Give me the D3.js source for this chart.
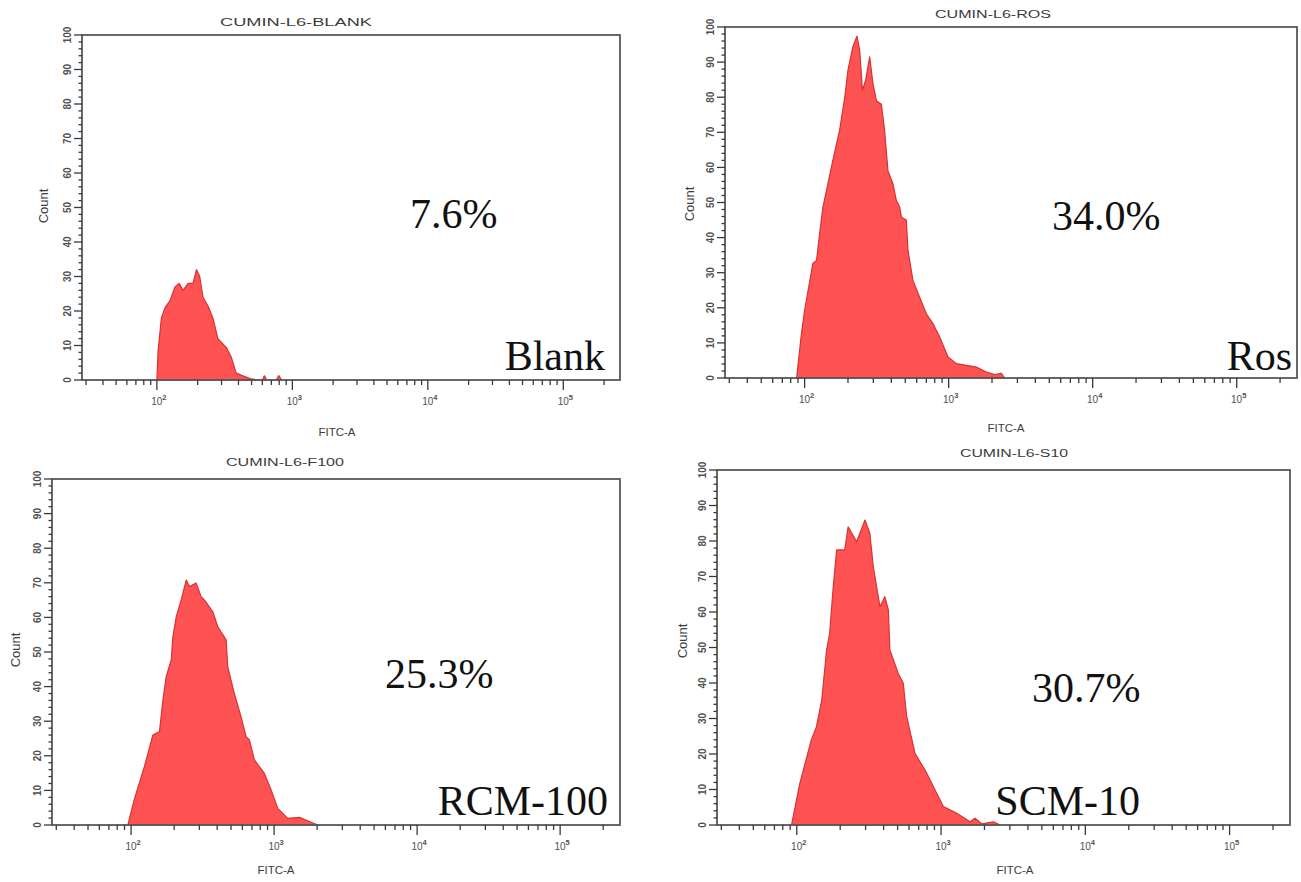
<!DOCTYPE html>
<html>
<head>
<meta charset="utf-8">
<script src="https://cdn.jsdelivr.net/npm/d3@7"></script>
<style>
html,body{margin:0;padding:0;background:#fff;}
svg{display:block;}
</style>
</head>
<body>
<svg id="chart" width="1301" height="882"></svg>
<script>
// ---------- DATA ----------
const yTickValues = [0, 10, 20, 30, 40, 50, 60, 70, 80, 90, 100];
const xTickExponents = [2, 3, 4, 5];
const panelTitles = ["CUMIN-L6-BLANK", "CUMIN-L6-ROS", "CUMIN-L6-F100", "CUMIN-L6-S10"];
const groupLabels = ["Blank", "Ros", "RCM-100", "SCM-10"];
const percentLabels = ["7.6%", "34.0%", "25.3%", "30.7%"];

// FITC-A values and counts for each histogram
const blankFITC  = [100, 102, 108, 115, 125, 136, 146, 156, 170, 185, 196, 207, 219, 238, 259, 282, 326, 355, 385, 432, 497, 562, 600, 622, 646, 760, 794, 832];
const blankCount = [0, 8.4, 18, 21, 23, 27, 28, 26, 28, 28, 32, 30, 24, 21.5, 18, 12, 9.4, 6.5, 2, 1.2, 0.3, 0, 0, 1.2, 0, 0, 1.3, 0];

const rosFITC  = [88, 95, 100, 108, 114, 121, 127, 134, 142, 157, 175, 190, 200, 216, 231, 241, 252, 265, 283, 298, 315, 341, 359, 379, 410, 433, 457, 470, 508, 522, 565, 629, 700, 778, 866, 989, 1132, 1328, 1556, 1827, 2084, 2322, 2449];
const rosCount = [0, 12.6, 19.3, 27, 32.6, 33.5, 41, 48.7, 53.5, 62, 70.6, 80, 87.7, 94.3, 97.4, 93.4, 82, 84.8, 91.5, 83.9, 79, 78, 70.6, 59, 55.4, 50.6, 48.7, 45.8, 45, 36.4, 27.8, 23, 18.3, 15.5, 11.7, 6, 4.1, 3.6, 3.1, 1.7, 1, 1.3, 0];

const rcmFITC  = [95, 105, 124, 142, 158, 167, 176, 191, 196, 207, 224, 243, 256, 285, 309, 326, 373, 404, 462, 474, 527, 587, 637, 672, 728, 855, 953, 1061, 1247, 1504, 1766, 2023];
const rcmCount = [0, 7.2, 16.9, 26, 27, 36, 42.9, 47.7, 54.4, 60.2, 65, 70.8, 68.9, 69.9, 66, 65, 61.6, 57.3, 53.5, 45.8, 38, 31.3, 25.5, 24.6, 18.8, 14.9, 10.1, 4.8, 1.9, 2.2, 1, 0];

const scmFITC  = [92, 105, 126, 137, 149, 161, 169, 179, 189, 215, 227, 260, 297, 321, 339, 377, 408, 431, 442, 505, 547, 578, 660, 796, 934, 1038, 1285, 1589, 1722, 1917, 2306, 2570];
const scmCount = [0, 11.7, 23.9, 27.7, 35.2, 49.3, 54, 67.1, 77.5, 77.5, 84, 79.8, 85.9, 82.2, 72.8, 61.5, 64.3, 60.6, 49.3, 42.7, 39.9, 30.5, 20.2, 14.6, 8.9, 5.2, 3.3, 0.9, 1.9, 0.3, 0.9, 0];

const seriesX = [blankFITC, rosFITC, rcmFITC, scmFITC];
const seriesY = [blankCount, rosCount, rcmCount, scmCount];

// ---------- LAYOUT ----------
const layouts = [
  {l:82,  t:35,  r:620,  b:380, titleX:296,  titleY:26,  titleW:152, fitcX:337,  fitcY:436, countX:43,  countY:206, pctX:410,  pctY:228, labX:605,  labY:370},
  {l:725, t:27,  r:1297, b:378, titleX:993,  titleY:18,  titleW:116, fitcX:1006, fitcY:432, countX:689, countY:204, pctX:1052, pctY:230, labX:1292, labY:370},
  {l:52,  t:479, r:620,  b:825, titleX:285,  titleY:466, titleW:118, fitcX:276,  fitcY:874, countX:15,  countY:650, pctX:385,  pctY:688, labX:608,  labY:815},
  {l:717, t:470, r:1290, b:825, titleX:1014, titleY:457, titleW:108, fitcX:1015, fitcY:874, countX:682, countY:641, pctX:1032, pctY:702, labX:1140, labY:815}
];

const svg = d3.select("#chart");
const sans = "'Liberation Sans', Arial, sans-serif";
const serif = "'Liberation Serif', 'Times New Roman', serif";
const axisColor = "#3a3a3a";
const textColor = "#3c3c3c";

layouts.forEach((L, i) => {
  const g = svg.append("g");
  const x = d3.scaleLog().domain([28, 262144]).range([L.l, L.r]);
  const y = d3.scaleLinear().domain([0, 100]).range([L.b, L.t]);

  // histogram
  const pts = seriesX[i].map((v, k) => [v, seriesY[i][k]]);
  const area = d3.area().x(d => x(d[0])).y0(y(0)).y1(d => y(d[1]));
  g.append("path").datum(pts).attr("d", area)
    .attr("fill", "#ff5353").attr("stroke", "#d63232").attr("stroke-width", 1.2)
    .attr("stroke-linejoin", "round");

  // frame
  g.append("rect").attr("x", L.l).attr("y", L.t).attr("width", L.r - L.l).attr("height", L.b - L.t)
    .attr("fill", "none").attr("stroke", "#585858").attr("stroke-width", 1.8);

  // y axis: minor ticks every 2, major every 10
  const yMinor = d3.range(0, 101, 2);
  g.selectAll(".ymin").data(yMinor).enter().append("line")
    .attr("x1", L.l).attr("x2", d => L.l - (d % 10 === 0 ? 8 : 3.5))
    .attr("y1", d => y(d)).attr("y2", d => y(d))
    .attr("stroke", axisColor).attr("stroke-width", 1.3);
  g.selectAll(".ylab").data(yTickValues).enter().append("text")
    .attr("transform", d => `translate(${L.l - 11},${y(d)}) rotate(-90)`)
    .attr("text-anchor", "middle")
    .attr("font-family", sans).attr("font-size", 10).attr("font-weight", "bold")
    .attr("fill", "#505050").text(d => d);

  // x axis ticks
  const xMinor = [];
  for (let e = 1; e <= 5; e++) for (let k = 1; k <= 9; k++) {
    const v = k * Math.pow(10, e);
    if (v >= 28 && v <= 262144) xMinor.push(v);
  }
  g.selectAll(".xmin").data(xMinor).enter().append("line")
    .attr("x1", d => x(d)).attr("x2", d => x(d))
    .attr("y1", L.b).attr("y2", d => L.b + (Math.abs(Math.log10(d) - Math.round(Math.log10(d))) < 1e-9 ? 10 : 5))
    .attr("stroke", axisColor).attr("stroke-width", 1.3);
  const xl = g.selectAll(".xlab").data(xTickExponents).enter().append("text")
    .attr("x", d => x(Math.pow(10, d)) + 2).attr("y", L.b + 25)
    .attr("text-anchor", "middle")
    .attr("font-family", sans).attr("font-size", 10).attr("fill", "#505050");
  xl.append("tspan").text("10");
  xl.append("tspan").attr("dy", -5).attr("font-size", 7.5).attr("font-weight", "bold").text(d => d);

  // titles and labels
  g.append("text").attr("x", L.titleX - L.titleW / 2).attr("y", L.titleY)
    .attr("textLength", L.titleW).attr("lengthAdjust", "spacingAndGlyphs")
    .attr("font-family", sans).attr("font-size", 10).attr("fill", textColor).text(panelTitles[i]);
  g.append("text").attr("x", L.fitcX).attr("y", L.fitcY).attr("text-anchor", "middle")
    .attr("font-family", sans).attr("font-size", 11.5).attr("fill", textColor).text("FITC-A");
  g.append("text").attr("transform", `translate(${L.countX},${L.countY}) rotate(-90)`)
    .attr("text-anchor", "middle").attr("dy", "0.35em")
    .attr("font-family", sans).attr("font-size", 13).attr("fill", textColor).text("Count");

  g.append("text").attr("x", L.pctX).attr("y", L.pctY)
    .attr("font-family", serif).attr("font-size", 42).attr("fill", "#111").text(percentLabels[i]);
  g.append("text").attr("x", L.labX).attr("y", L.labY).attr("text-anchor", "end")
    .attr("font-family", serif).attr("font-size", 42).attr("fill", "#111").text(groupLabels[i]);
});
</script>
</body>
</html>
